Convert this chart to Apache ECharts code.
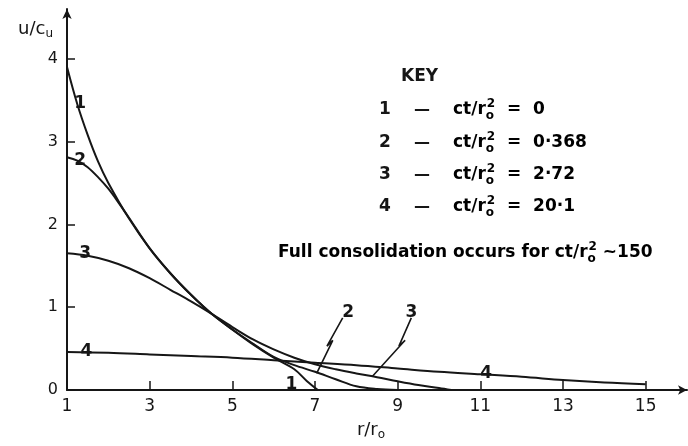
<!DOCTYPE html>
<html>
<head>
<meta charset="utf-8">
<script src="https://cdn.jsdelivr.net/npm/echarts@6/dist/echarts.min.js"></script>
<style>
html,body{margin:0;padding:0;background:#fff;}
#chart{width:688px;height:446px;}
</style>
</head>
<body>
<div id="chart"></div>
<script>
// ---- data ----
const xTicks = [1, 3, 5, 7, 9, 11, 13, 15];
const yTicks = [0, 1, 2, 3, 4];

// curve 1 : ct/ro^2 = 0
const c1x = [1, 1.25, 1.5, 1.75, 2, 2.5, 3, 3.5, 4, 4.5, 5, 5.5, 6, 6.5, 6.8, 7.07];
const c1y = [3.90, 3.45, 3.08, 2.76, 2.50, 2.07, 1.71, 1.41, 1.15, 0.92, 0.73, 0.55, 0.39, 0.25, 0.11, 0];
// curve 2 : ct/ro^2 = 0.368
const c2x = [1, 1.25, 1.5, 1.75, 2, 2.25, 2.5, 3, 3.5, 4, 4.5, 5, 5.5, 6, 6.5, 7, 7.5, 8, 8.5, 9];
const c2y = [2.81, 2.77, 2.69, 2.57, 2.43, 2.26, 2.08, 1.71, 1.41, 1.15, 0.92, 0.73, 0.56, 0.40, 0.30, 0.22, 0.13, 0.045, 0.012, 0];
// curve 3 : ct/ro^2 = 2.72
const c3x = [1, 1.5, 2, 2.5, 3, 3.5, 4, 4.5, 5, 5.5, 6, 6.5, 7, 7.5, 8, 8.5, 9, 9.5, 10, 10.3];
const c3y = [1.65, 1.62, 1.56, 1.47, 1.35, 1.21, 1.07, 0.92, 0.76, 0.61, 0.49, 0.39, 0.31, 0.25, 0.20, 0.155, 0.105, 0.06, 0.025, 0];
// curve 4 : ct/ro^2 = 20.1
const c4x = [1, 2, 3, 4, 5, 6, 7, 8, 9, 10, 11, 12, 13, 14, 15];
const c4y = [0.46, 0.45, 0.43, 0.41, 0.39, 0.36, 0.33, 0.30, 0.26, 0.22, 0.19, 0.16, 0.12, 0.09, 0.07];

// curve number labels (in data coordinates)
const curveLabelText = ['1', '2', '3', '4', '1', '4', '2', '3'];
const curveLabelX = [1.32, 1.32, 1.44, 1.47, 6.43, 11.14, 7.80, 9.33];
const curveLabelY = [3.52, 2.83, 1.71, 0.53, 0.12, 0.26, 0.99, 0.99];

// zig-zag leader lines (data coordinates)
const leader2x = [7.67, 7.29, 7.43, 7.04];
const leader2y = [0.87, 0.53, 0.60, 0.20];
const leader3x = [9.33, 9.03, 9.18, 8.38];
const leader3y = [0.87, 0.53, 0.60, 0.16];

// key
const keyNums = ['1', '2', '3', '4'];
const keyValues = ['0', '0·368', '2·72', '20·1'];
const keyNote = 'Full consolidation occurs for';
const keyNoteValue = '~150';

// ---- chart ----
const FONT = 'DejaVu Sans';
const INK = '#161616';
const zip = (xs, ys) => xs.map((x, i) => [x, ys[i]]);

function curve(name, xs, ys) {
  return {
    type: 'line', name: name, data: zip(xs, ys),
    showSymbol: false, symbol: 'none', smooth: 0.35,
    lineStyle: { color: INK, width: 2 }, silent: true, z: 3
  };
}
function leader(xs, ys) {
  return {
    type: 'line', data: zip(xs, ys), showSymbol: false, symbol: 'none',
    smooth: false, lineStyle: { color: INK, width: 1.6 }, silent: true, z: 3
  };
}

const ctRich = {
  t: { fontFamily: FONT, fontSize: 17, fontWeight: 'bold', color: INK },
  sub: { fontFamily: FONT, fontSize: 12, fontWeight: 'bold', color: INK, padding: [12, 0, 0, 0], width: 1 },
  sup: { fontFamily: FONT, fontSize: 12, fontWeight: 'bold', color: INK, padding: [0, 0, 12, 0] }
};

const graphics = [];
graphics.push({
  type: 'text', left: 401, top: 68,
  style: { text: 'KEY', font: 'bold 17px ' + FONT, fill: INK }
});
const rowY = [110, 142.5, 175, 207];
keyNums.forEach((n, i) => {
  graphics.push({
    type: 'text', x: 385, y: rowY[i],
    style: { text: n, font: 'bold 17px ' + FONT, fill: INK, align: 'center', verticalAlign: 'middle' }
  });
  graphics.push({
    type: 'text', x: 422, y: rowY[i],
    style: { text: '—', font: 'bold 16px ' + FONT, fill: INK, align: 'center', verticalAlign: 'middle' }
  });
  graphics.push({
    type: 'text', x: 453, y: rowY[i],
    style: {
      text: '{t|ct/r}{sub|o}{sup|2}{t|  =  ' + keyValues[i] + '}',
      rich: ctRich, verticalAlign: 'middle', align: 'left'
    }
  });
});
graphics.push({
  type: 'text', x: 278, y: 253,
  style: {
    text: '{t|' + keyNote + ' ct/r}{sub|o}{sup|2}{t| ' + keyNoteValue + '}',
    rich: ctRich, verticalAlign: 'middle', align: 'left'
  }
});

const labelData = curveLabelText.map((t, i) => ({ name: t, value: [curveLabelX[i], curveLabelY[i]] }));

const chart = echarts.init(document.getElementById('chart'), null, { renderer: 'canvas' });
chart.setOption({
  animation: false,
  backgroundColor: '#ffffff',
  grid: { left: 67, right: 1, top: 9, bottom: 49, containLabel: false },
  xAxis: {
    type: 'value', min: 1, max: 16, interval: 2,
    name: '{n|r/r}{s|o}', nameLocation: 'middle', nameGap: 29,
    nameTextStyle: {
      padding: [0, 12, 0, 0],
      rich: {
        n: { fontFamily: FONT, fontSize: 18, color: INK },
        s: { fontFamily: FONT, fontSize: 12, color: INK, padding: [10, 0, 0, 0] }
      }
    },
    axisLine: { show: true, symbol: ['none', 'arrow'], symbolSize: [7, 9], lineStyle: { color: INK, width: 2 } },
    axisTick: { show: true, inside: true, length: 9, customValues: xTicks, lineStyle: { color: INK, width: 1.5 } },
    axisLabel: {
      customValues: xTicks, margin: 8, fontFamily: FONT, fontSize: 17, color: INK,
      formatter: v => (xTicks.includes(v) ? String(v) : '')
    },
    splitLine: { show: false }
  },
  yAxis: {
    type: 'value', min: 0, max: 4.6, interval: 1,
    name: '{n|u/c}{s|u}', nameLocation: 'end', nameGap: -20,
    nameTextStyle: {
      align: 'right', verticalAlign: 'middle', padding: [0, 14, 0, 0],
      rich: {
        n: { fontFamily: FONT, fontSize: 18, color: INK },
        s: { fontFamily: FONT, fontSize: 12, color: INK, padding: [10, 0, 0, 0] }
      }
    },
    axisLine: { show: true, symbol: ['none', 'arrow'], symbolSize: [7, 10], lineStyle: { color: INK, width: 2 } },
    axisTick: { show: true, inside: true, length: 8, customValues: yTicks, lineStyle: { color: INK, width: 1.5 } },
    axisLabel: {
      customValues: yTicks, margin: 9, fontFamily: FONT, fontSize: 16, color: INK,
      formatter: v => (yTicks.includes(v) ? String(v) : '')
    },
    splitLine: { show: false }
  },
  series: [
    curve('ct/ro² = 0', c1x, c1y),
    curve('ct/ro² = 0·368', c2x, c2y),
    curve('ct/ro² = 2·72', c3x, c3y),
    curve('ct/ro² = 20·1', c4x, c4y),
    leader(leader2x, leader2y),
    leader(leader3x, leader3y),
    {
      type: 'scatter', data: labelData, symbolSize: 0, silent: true, z: 4,
      itemStyle: { opacity: 1 },
      label: {
        show: true, position: 'inside', offset: [0, 5], formatter: p => p.name,
        fontFamily: FONT, fontSize: 17, fontWeight: 'bold', color: INK
      }
    }
  ],
  graphic: graphics
});
</script>
</body>
</html>
